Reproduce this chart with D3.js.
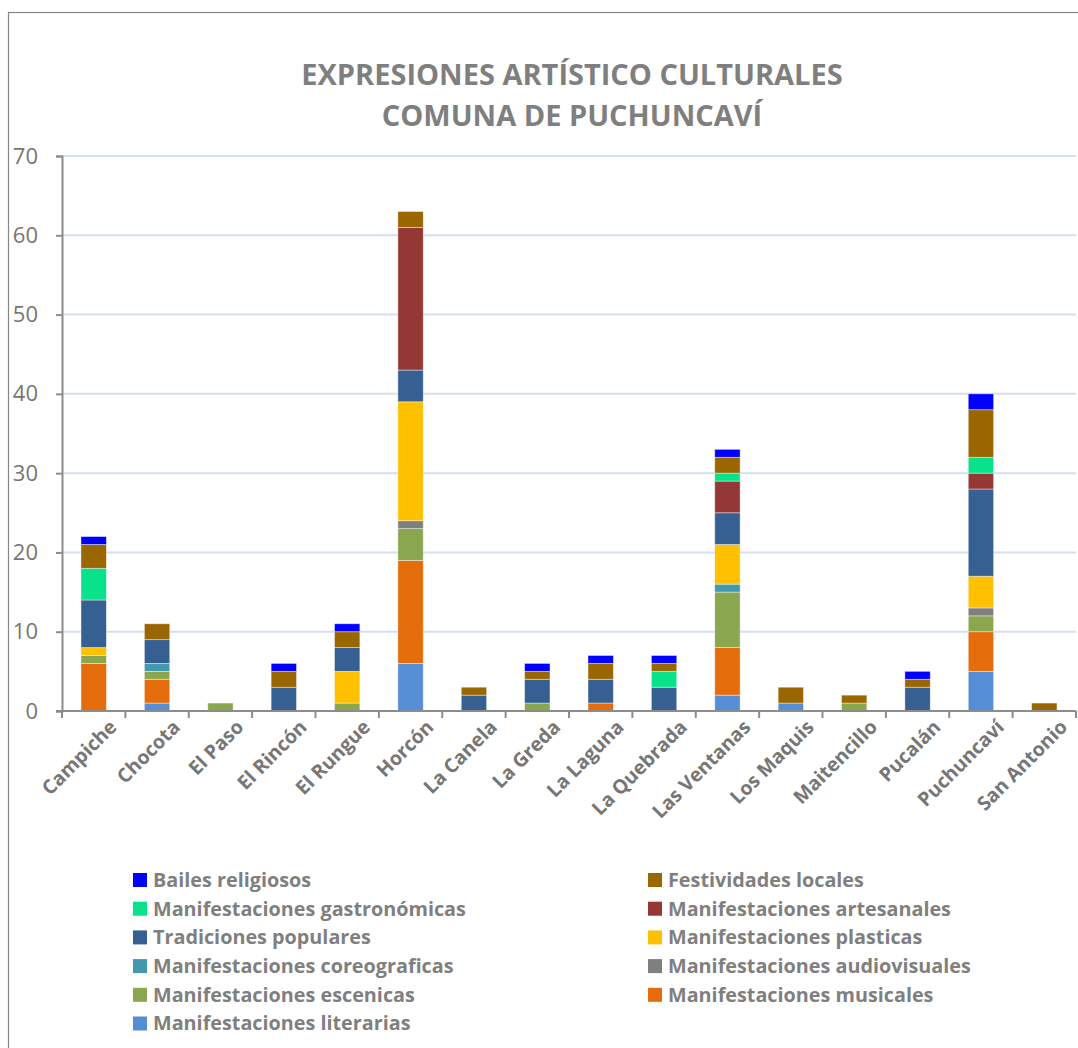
<!DOCTYPE html>
<html>
<head>
<meta charset="utf-8">
<script src="https://cdn.jsdelivr.net/npm/d3@7"></script>
<style>
  body { margin: 0; background: #fff; }
  svg { display: block; }
  text { font-family: "Open Sans", Lato, sans-serif; }
</style>
</head>
<body>
<div id="chart"></div>
<script>
// categories (localidades)
const localidades = ["Campiche", "Chocota", "El Paso", "El Rincón", "El Rungue", "Horcón", "La Canela", "La Greda",
    "La Laguna", "La Quebrada", "Las Ventanas", "Los Maquis", "Maitencillo", "Pucalán", "Puchuncaví", "San Antonio"];

// series, bottom of stack first
const series = ["Manifestaciones literarias", "Manifestaciones musicales", "Manifestaciones escenicas",
    "Manifestaciones audiovisuales", "Manifestaciones coreograficas", "Manifestaciones plasticas",
    "Tradiciones populares", "Manifestaciones artesanales", "Manifestaciones gastronómicas",
    "Festividades locales", "Bailes religiosos"];

const literarias     = [0, 1, 0, 0, 0, 6, 0, 0, 0, 0, 2, 1, 0, 0, 5, 0];
const musicales      = [6, 3, 0, 0, 0, 13, 0, 0, 1, 0, 6, 0, 0, 0, 5, 0];
const escenicas      = [1, 1, 1, 0, 1, 4, 0, 1, 0, 0, 7, 0, 1, 0, 2, 0];
const audiovisuales  = [0, 0, 0, 0, 0, 1, 0, 0, 0, 0, 0, 0, 0, 0, 1, 0];
const coreograficas  = [0, 1, 0, 0, 0, 0, 0, 0, 0, 0, 1, 0, 0, 0, 0, 0];
const plasticas      = [1, 0, 0, 0, 4, 15, 0, 0, 0, 0, 5, 0, 0, 0, 4, 0];
const tradiciones    = [6, 3, 0, 3, 3, 4, 2, 3, 3, 3, 4, 0, 0, 3, 11, 0];
const artesanales    = [0, 0, 0, 0, 0, 18, 0, 0, 0, 0, 4, 0, 0, 0, 2, 0];
const gastronomicas  = [4, 0, 0, 0, 0, 0, 0, 0, 0, 2, 1, 0, 0, 0, 2, 0];
const festividades   = [3, 2, 0, 2, 2, 2, 1, 1, 2, 1, 2, 2, 1, 1, 6, 1];
const bailes         = [1, 0, 0, 1, 1, 0, 0, 1, 1, 1, 1, 0, 0, 1, 2, 0];

const yTicks = [0, 10, 20, 30, 40, 50, 60, 70];

const seriesValues = [literarias, musicales, escenicas, audiovisuales, coreograficas, plasticas,
    tradiciones, artesanales, gastronomicas, festividades, bailes];
const colors = ["#558ed5", "#e46c0a", "#8aa64f", "#7f7f7f", "#4198af", "#ffc000",
    "#366092", "#953735", "#07e28b", "#996600", "#0000ff"];

const W = 1078, H = 1048;
const plot = { left: 62, right: 1076, top: 156, bottom: 711 };

const svg = d3.select("#chart").append("svg").attr("width", W).attr("height", H);

// chart frame
svg.append("rect")
    .attr("x", 8.5).attr("y", 12.5).attr("width", W + 20).attr("height", H + 20)
    .attr("fill", "#fff").attr("stroke", "#868686").attr("stroke-width", 1.2);

// title
const title = svg.append("text")
    .attr("x", 572).attr("text-anchor", "middle")
    .attr("fill", "#7f7f7f").attr("font-weight", "bold").attr("font-size", 29);
title.append("tspan").attr("x", 572).attr("y", 85).text("EXPRESIONES ARTÍSTICO CULTURALES");
title.append("tspan").attr("x", 572).attr("y", 126).text("COMUNA DE PUCHUNCAVÍ");

// data rows for the stack
const rows = localidades.map((loc, i) => {
    const r = { loc };
    series.forEach((s, j) => r[s] = seriesValues[j][i]);
    return r;
});
const stacked = d3.stack().keys(series)(rows);

const x = d3.scaleBand().domain(localidades).range([plot.left, plot.right]).paddingInner(0.6).paddingOuter(0.3);
const xEdge = d3.scaleBand().domain(localidades).range([plot.left, plot.right]);
const y = d3.scaleLinear().domain([0, 70]).range([plot.bottom, plot.top]);
const color = d3.scaleOrdinal().domain(series).range(colors);

// gridlines
svg.append("g")
    .selectAll("line")
    .data(yTicks.filter(d => d > 0))
    .enter().append("line")
    .attr("x1", plot.left).attr("x2", plot.right)
    .attr("y1", d => y(d)).attr("y2", d => y(d))
    .attr("stroke", "#d6dff0").attr("stroke-width", 2);

// bars
svg.append("g")
    .selectAll("g")
    .data(stacked)
    .enter().append("g")
    .attr("fill", d => color(d.key))
    .selectAll("rect")
    .data(d => d)
    .enter().append("rect")
    .attr("x", d => x(d.data.loc))
    .attr("width", x.bandwidth())
    .attr("y", d => y(d[1]))
    .attr("height", d => y(d[0]) - y(d[1]))
    .attr("stroke", "#fff").attr("stroke-opacity", 0.5).attr("stroke-width", 0.8);

// y axis
const yAxis = svg.append("g")
    .attr("transform", `translate(${plot.left},0)`)
    .call(d3.axisLeft(y).tickValues(yTicks).tickSize(6).tickPadding(18));
yAxis.select(".domain").attr("stroke", "#8c8c8c").attr("stroke-width", 2);
yAxis.selectAll(".tick line").attr("stroke", "#8c8c8c").attr("stroke-width", 2);
yAxis.selectAll(".tick text").attr("fill", "#767676").attr("font-size", 22)
    .attr("font-family", "'Open Sans', Lato, sans-serif");

// x axis
const xAxis = svg.append("g")
    .attr("transform", `translate(0,${plot.bottom})`)
    .call(d3.axisBottom(x).tickSize(0).tickPadding(12));
xAxis.select(".domain").remove();
svg.append("line")
    .attr("x1", plot.left - 6).attr("x2", plot.right)
    .attr("y1", plot.bottom).attr("y2", plot.bottom)
    .attr("stroke", "#8c8c8c").attr("stroke-width", 2);
svg.append("g")
    .selectAll("line")
    .data(localidades.map(d => xEdge(d)).concat([plot.right]))
    .enter().append("line")
    .attr("x1", d => d).attr("x2", d => d)
    .attr("y1", plot.bottom).attr("y2", plot.bottom + 7)
    .attr("stroke", "#8c8c8c").attr("stroke-width", 2);
xAxis.selectAll(".tick text")
    .attr("fill", "#767676").attr("font-size", 19.5).attr("font-weight", "bold")
    .attr("font-family", "'Open Sans', Lato, sans-serif")
    .attr("text-anchor", "end")
    .attr("dy", "0.35em")
    .attr("transform", "translate(11,4) rotate(-45)");

// legend, two columns in reverse stack order
const legendKeys = series.slice().reverse();
const legend = svg.append("g")
    .selectAll("g")
    .data(legendKeys)
    .enter().append("g")
    .attr("transform", (d, i) => `translate(${i % 2 === 0 ? 133 : 648},${873 + Math.floor(i / 2) * 28.7})`);

legend.append("rect")
    .attr("width", 14).attr("height", 14)
    .attr("fill", d => color(d));

legend.append("text")
    .attr("x", 20).attr("y", 7).attr("dy", "0.35em")
    .attr("fill", "#7f7f7f").attr("font-size", 19.8).attr("font-weight", "bold")
    .text(d => d);
</script>
</body>
</html>
